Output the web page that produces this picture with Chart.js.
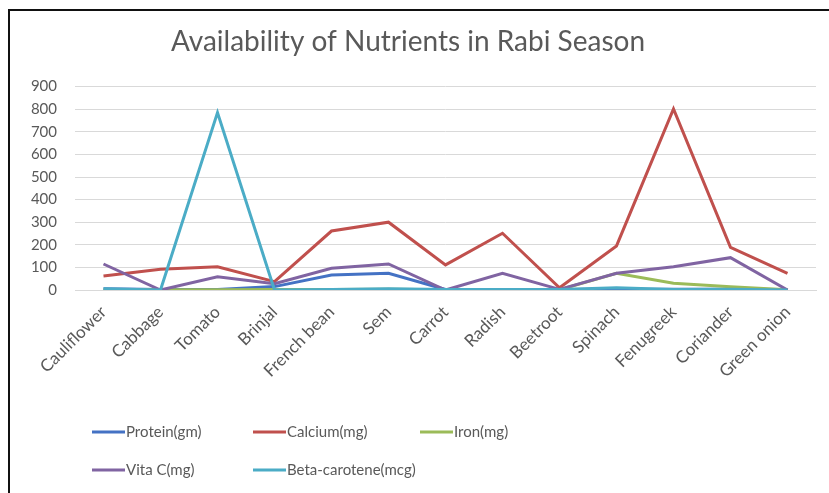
<!DOCTYPE html>
<html>
<head>
<meta charset="utf-8">
<script src="https://cdn.jsdelivr.net/npm/chart.js@4/dist/chart.umd.min.js"></script>
<style>
  html, body { margin: 0; padding: 0; background: #fff; overflow: hidden; }
  #wrap { position: relative; width: 829px; height: 493px; }
  #frame { position: absolute; left: 8px; top: 9px; width: 900px; height: 600px;
           border-top: 2px solid #111; border-left: 2px solid #111; }
  #chart { position: absolute; left: 0; top: 0; }
</style>
</head>
<body>
<div id="wrap">
  <div id="frame"></div>
  <canvas id="chart" width="829" height="493"></canvas>
</div>
<script>
// Vegetables grown in the rabi season
const vegetables = ['Cauliflower', 'Cabbage', 'Tomato', 'Brinjal', 'French bean', 'Sem',
  'Carrot', 'Radish', 'Beetroot', 'Spinach', 'Fenugreek', 'Coriander', 'Green onion'];

// Nutrient content per vegetable
const protein      = [5, 2, 2, 15, 66, 74, 2, 2, 2, 3, 3, 3, 1];
const calcium      = [62, 92, 103, 37, 261, 300, 111, 251, 10, 195, 801, 189, 74];
const iron         = [1, 1, 1, 2, 2, 3, 1, 1, 1, 74, 30, 14, 1];
const vitaC        = [115, 0, 59, 28, 96, 115, 0, 74, 3, 74, 103, 143, 0];
const betaCarotene = [5, 0, 785, 0, 2, 5, 2, 2, 2, 10, 2, 3, 0];

const yTicks = { min: 0, max: 900, step: 100 };

const FONT = "Lato, 'Open Sans', sans-serif";
const GREY = '#595959';

function series(label, data, color, order) {
  return { label, data, borderColor: color, backgroundColor: color, borderWidth: 3,
           pointRadius: 0, pointHoverRadius: 0, tension: 0, order };
}

// Legend laid out in fixed columns, two rows
const columnLegend = {
  id: 'columnLegend',
  afterDraw(chart) {
    const ctx = chart.ctx;
    const slots = [[92, 432], [253, 432], [420, 432], [92, 470], [253, 470]];
    ctx.save();
    ctx.font = '15px ' + FONT;
    ctx.fillStyle = GREY;
    ctx.textBaseline = 'middle';
    chart.data.datasets.forEach((ds, i) => {
      const [x, y] = slots[i];
      ctx.strokeStyle = ds.borderColor;
      ctx.lineWidth = 3;
      ctx.beginPath();
      ctx.moveTo(x, y);
      ctx.lineTo(x + 33, y);
      ctx.stroke();
      ctx.fillText(ds.label, x + 34, y);
    });
    ctx.restore();
  }
};

new Chart(document.getElementById('chart'), {
  type: 'line',
  data: {
    labels: vegetables,
    datasets: [
      series('Protein(gm)', protein, '#4472C4', 4),
      series('Calcium(mg)', calcium, '#C0504D', 3),
      series('Iron(mg)', iron, '#9BBB59', 2),
      series('Vita C(mg)', vitaC, '#8064A2', 1),
      series('Beta-carotene(mcg)', betaCarotene, '#4BACC6', 0)
    ]
  },
  options: {
    responsive: false,
    animation: false,
    layout: { padding: { left: 0, right: 13, top: 0, bottom: 0 } },
    plugins: {
      legend: { display: false },
      tooltip: { enabled: false },
      title: {
        display: true,
        text: 'Availability of Nutrients in Rabi Season',
        color: GREY,
        font: { family: FONT, size: 28, weight: 'normal', lineHeight: 1.2 },
        padding: { top: 25, bottom: 28 }
      }
    },
    scales: {
      x: {
        offset: true,
        grid: { display: false, drawTicks: false },
        border: { display: true, color: '#d9d9d9', width: 1 },
        ticks: { color: GREY, font: { family: FONT, size: 17 }, minRotation: 45, maxRotation: 45, padding: 12 },
        afterFit(scale) { scale.height = 203; }
      },
      y: {
        min: yTicks.min,
        max: yTicks.max,
        grid: { color: '#d9d9d9', lineWidth: 1, drawTicks: false },
        border: { display: false },
        ticks: { stepSize: yTicks.step, color: GREY, font: { family: FONT, size: 15 }, padding: 18 },
        afterFit(scale) { scale.width = 75; }
      }
    }
  },
  plugins: [columnLegend]
});
</script>
</body>
</html>
